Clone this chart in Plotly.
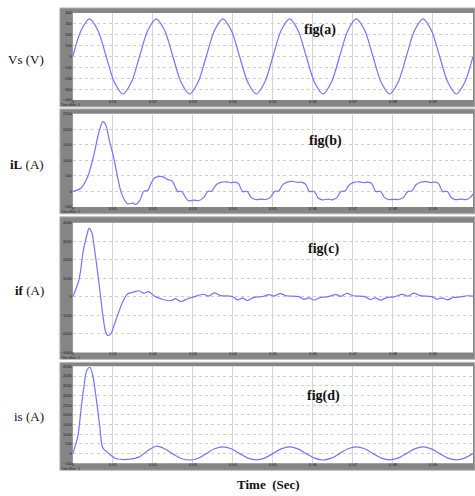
import plotly.graph_objects as go

# ---------------- data (time in ms) ----------------
vs_t = [i * 100 / 48 for i in range(49)]
vs_v = [0, 240, 345, 240, 0, -240, -345, -240,
        0, 240, 345, 240, 0, -240, -345, -240,
        0, 240, 345, 240, 0, -240, -345, -240,
        0, 240, 345, 240, 0, -240, -345, -240,
        0, 240, 345, 240, 0, -240, -345, -240,
        0, 240, 345, 240, 0, -240, -345, -240,
        0]

il_t = [0, 2.0, 3.7, 5.2, 6.5, 7.5, 8.2, 9.2, 10.2, 11.2, 12.0, 13.0, 13.7, 15.0, 15.7, 16.7,
        17.7, 18.7, 19.5, 20.4, 21.4, 22.7, 23.7, 24.7, 25.4, 26.2, 27.2, 28.2, 28.9, 30.4, 31.4, 32.7,
        33.7, 34.7, 35.7, 36.9, 38.4, 39.4, 40.4, 41.4, 42.4, 43.6, 44.6, 45.6, 47.1, 48.1, 49.3,
        50.4, 51.4, 52.4, 53.6, 55.1, 56.1, 57.1, 58.1, 59.1, 60.3, 61.3, 62.3, 63.8, 64.8, 66.0,
        67.0, 68.0, 69.0, 70.2, 71.7, 72.7, 73.7, 74.7, 75.7, 76.9, 77.9, 78.9, 80.4, 81.4, 82.6,
        83.7, 84.7, 85.7, 86.9, 88.4, 89.4, 90.4, 91.4, 92.4, 93.6, 94.6, 95.6, 97.1, 98.1, 99.3,
        100.0]
il_v = [0, 100, 470, 1150, 1900, 2250, 2150, 1600, 1100, 450, 0, -300, -400, -380, -420, -300,
        0, 30, 250, 430, 480, 460, 380, 350, 200, 0, 0, -200, -300, -280, -300, -200,
        0, 10, 200, 290, 310, 280, 300, 250, 0, 0, -200, -260, -250, -260, -200,
        0, 10, 210, 300, 320, 290, 300, 240, 0, 0, -210, -270, -250, -270, -200,
        0, 10, 200, 290, 310, 280, 300, 250, 0, 0, -200, -260, -255, -260, -200,
        0, 10, 205, 295, 315, 285, 305, 250, 0, 0, -205, -265, -250, -265, -200,
        -80]

if_t = [0, 1.5, 2.7, 3.7, 4.0, 4.7, 5.2, 6.5, 7.5, 8.2, 8.7, 9.5, 10.2, 11.5, 12.5, 13.7,
        15.2, 16.5, 17.7, 18.9, 20.7, 24.4, 25.7, 26.9, 28.7, 30.2, 32.7, 33.9, 35.4, 36.9,
        39.9, 41.1, 42.4, 43.6, 45.1, 47.5, 49.0, 50.3, 51.8, 53.3, 56.5, 57.7, 59.0, 60.3,
        61.8, 63.5, 65.8, 67.0, 68.5, 70.0, 73.0, 74.3, 75.6, 76.9, 78.4, 80.2, 82.4, 83.7,
        85.2, 86.7, 89.7, 91.0, 92.3, 93.6, 95.1, 97.0, 98.5, 100.0]
if_v = [0, 900, 2600, 3500, 3700, 3500, 2900, 800, -1000, -1900, -2080, -2000, -1600, -800, -250, 150,
        260, 330, 200, 280, 0, -210, -100, -250, -100, 0, 140, 40, 210, 70,
        20, -160, -70, -200, -40, 20, 120, 40, 180, 60, 10, -130, -60, -170,
        -40, 0, 120, 30, 190, 60, 10, -140, -60, -180, -40, 0, 130, 40,
        200, 70, 10, -120, -50, -160, -30, 0, 60, 40]

is_t = [0, 1.25, 2.0, 2.74, 3.5, 4.24, 5.0, 5.74, 6.73, 7.48, 8.73, 10.7, 13.7, 16.5, 18.7,
        20.8, 22.9, 24.9, 27.1, 29.2, 31.2,
        33.33, 35.42, 37.5, 39.58, 41.67, 43.75, 45.83, 47.92,
        50.0, 52.08, 54.17, 56.25, 58.33, 60.42, 62.5, 64.58,
        66.67, 68.75, 70.83, 72.92, 75.0, 77.08, 79.17, 81.25,
        83.33, 85.42, 87.5, 89.58, 91.67, 93.75, 95.83, 97.92, 100.0]
is_v = [0, 900, 2200, 3400, 4300, 4450, 4000, 3000, 1400, 300, 50, -250, -300, -180, 150,
        380, 250, 0, -250, -330, -250,
        0, 250, 350, 250, 0, -230, -320, -230,
        0, 245, 345, 245, 0, -235, -330, -235,
        0, 250, 350, 250, 0, -230, -320, -230,
        0, 245, 345, 245, 0, -235, -325, -235, 0]

x_ticks = [0, 10, 20, 30, 40, 50, 60, 70, 80, 90, 100]
x_ticktext = ["0", "0.01", "0.02", "0.03", "0.04", "0.05", "0.06", "0.07", "0.08", "0.09", "0.1"]

panels = [
    dict(t=vs_t, v=vs_v, yr=[-400, 400], dt=100, label="Vs (V)", fig="fig(a)"),
    dict(t=il_t, v=il_v, yr=[-500, 2500], dt=500, label="<b>iL</b> (A)", fig="fig(b)"),
    dict(t=if_t, v=if_v, yr=[-3000, 4000], dt=1000, label="<b>if</b> (A)", fig="fig(c)"),
    dict(t=is_t, v=is_v, yr=[-500, 4500], dt=500, label="is (A)", fig="fig(d)"),
]

# ---------------- layout geometry (pixels) ----------------
W, H = 475, 496
plot_x = (72, 473)
plot_y = [(10, 98), (112, 206), (222, 353), (367, 465)]
frame_x = (59, 475)
frame_y = [(5, 105), (107, 213), (216, 360), (363, 472)]
label_y = [57, 163, 290, 418]
fig_xy = [(320, 27), (325, 139), (323, 249), (323, 397)]

def px(x):
    return x / W

def py(y):
    return 1 - y / H

fig = go.Figure()
shapes = []
annotations = []
LINE = "#7474ff"

for i, p in enumerate(panels):
    n = "" if i == 0 else str(i + 1)
    xa, ya = "x" + n, "y" + n
    fig.add_trace(go.Scatter(x=p["t"], y=p["v"], mode="lines", xaxis=xa, yaxis=ya,
                             line=dict(color=LINE, width=1.2, shape="spline", smoothing=0.9),
                             showlegend=False, hoverinfo="skip", cliponaxis=False))
    ax = dict(domain=[px(plot_x[0]), px(plot_x[1])], range=[0, 100], anchor=ya,
              tickvals=x_ticks, ticktext=x_ticktext, showgrid=True, gridcolor="#d4d4d4",
              gridwidth=1, zeroline=False, showline=False, ticks="", ticklabelstandoff=-2,
              tickfont=dict(size=4, color="#222222", family="Arial"), fixedrange=True)
    ay = dict(domain=[py(plot_y[i][1]), py(plot_y[i][0])], range=p["yr"], anchor=xa,
              dtick=p["dt"], tick0=0, showgrid=True, gridcolor="#cfcfcf", griddash="dot",
              gridwidth=1, zeroline=False, showline=False, ticks="",
              tickfont=dict(size=4, color="#222222", family="Arial"), fixedrange=True)
    fig.layout["xaxis" + n] = ax
    fig.layout["yaxis" + n] = ay

    # gray frame and white plot area
    shapes.append(dict(type="rect", xref="paper", yref="paper", layer="below",
                       x0=px(frame_x[0]), x1=px(frame_x[1]),
                       y0=py(frame_y[i][1]), y1=py(frame_y[i][0]),
                       fillcolor="#858585", line=dict(color="#b8b8b8", width=1)))
    shapes.append(dict(type="rect", xref="paper", yref="paper", layer="below",
                       x0=px(plot_x[0]), x1=px(plot_x[1]),
                       y0=py(plot_y[i][1]), y1=py(plot_y[i][0]),
                       fillcolor="white", line=dict(width=0)))

    annotations.append(dict(text=p["label"], xref="paper", yref="paper",
                            x=px(45), y=py(label_y[i]), xanchor="right", yanchor="middle",
                            showarrow=False,
                            font=dict(family="Liberation Serif", size=13, color="#111111")))
    annotations.append(dict(text="<b>" + p["fig"] + "</b>", xref="paper", yref="paper",
                            x=px(fig_xy[i][0]), y=py(fig_xy[i][1]), xanchor="center",
                            yanchor="middle", showarrow=False,
                            font=dict(family="Liberation Serif", size=14, color="#111111")))
    annotations.append(dict(text="Time offset:  0", xref="paper", yref="paper",
                            x=px(59), y=py(frame_y[i][1] + 1.5), xanchor="left",
                            yanchor="bottom", showarrow=False, borderpad=0,
                            font=dict(family="Arial", size=3, color="#222222")))

annotations.append(dict(text="<b>Time  (Sec)</b>", xref="paper", yref="paper",
                        x=px(268), y=py(486), xanchor="center", yanchor="middle",
                        showarrow=False,
                        font=dict(family="Liberation Serif", size=13, color="#111111")))

fig.update_layout(width=W, height=H, autosize=False,
                  margin=dict(l=0, r=0, t=0, b=0, pad=0),
                  paper_bgcolor="white", plot_bgcolor="white",
                  shapes=shapes, annotations=annotations)

fig.write_html("out.html", config={"displayModeBar": False},
               post_script="document.body.style.margin='0';document.body.style.overflow='hidden';")
